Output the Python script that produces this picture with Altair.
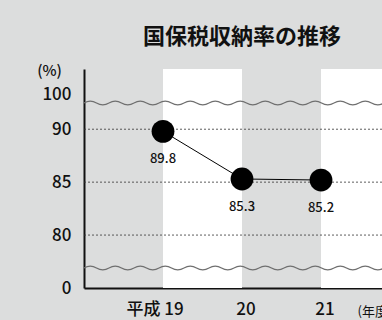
import altair as alt
import pandas as pd

# ---- data ----
years = [19, 20, 21]
year_labels = ["平成 19", "20", "21"]
rates = [89.8, 85.3, 85.2]
grid_values = [80, 85, 90]
stripe_starts = [19, 21]
stripe_ends = [20, 22]

FONT = "Noto Sans CJK JP"
BG = "#dcdddd"
PLOT_W, PLOT_H = 298, 219
X_DOMAIN = [18, 21.772]
Y_DOMAIN = [75, 95.69]
Y_LABEL_100 = 93.24  # break-axis position of the "100" label

df = pd.DataFrame({"year": years, "rate": rates, "ylab": year_labels})
grid_df = pd.DataFrame({"v": grid_values})
stripe_df = pd.DataFrame({"s": stripe_starts, "e": stripe_ends})

xscale = alt.Scale(domain=X_DOMAIN, nice=False, zero=False)
yscale = alt.Scale(domain=Y_DOMAIN, nice=False, zero=False)

# one period of the wavy break line as a custom symbol path
WAVE_PERIOD = 25  # px
half = WAVE_PERIOD / 2
amp = 3.6 / half
wave_path = f"M-1,0 q0.5,{-amp:.4f} 1,0 q0.5,{amp:.4f} 1,0"
n_waves = -(-PLOT_W // WAVE_PERIOD)
px_per_unit = PLOT_W / (X_DOMAIN[1] - X_DOMAIN[0])

x_axis = alt.Axis(
    values=years, labels=False,
    ticks=False, grid=False, domainColor="#111111", domainWidth=2,
    title="(年度)", titleFont=FONT, titleFontSize=13, titleFontWeight="normal",
    titleColor="#111111", titleAnchor="start", titleAlign="left", titleBaseline="middle",
    titleX=273, titleY=23,
)
y_axis = alt.Axis(
    values=[75, 80, 85, 90, Y_LABEL_100],
    labelExpr="datum.value < 76 ? '0' : (datum.value > 93 ? '100' : datum.label)",
    ticks=False, grid=False, domainColor="#111111", domainWidth=2,
    labelFont=FONT, labelFontSize=17, labelFontWeight=500, labelColor="#111111",
    labelPadding=13, labelFlush=False,
    title="(%)", titleFont=FONT, titleFontSize=15, titleFontWeight=500,
    titleColor="#111111", titleAngle=0, titleAlign="center", titleBaseline="middle",
    titleX=-35, titleY=1,
)

base = alt.Chart(df)

stripes = alt.Chart(stripe_df).mark_rect(color="white", clip=True).encode(
    x=alt.X("s:Q", scale=xscale, axis=x_axis),
    x2="e:Q",
    y=alt.value(0),
    y2=alt.value(PLOT_H),
)

grid = alt.Chart(grid_df).mark_rule(color="#333333", strokeDash=[2, 2], strokeWidth=0.8).encode(
    y=alt.Y("v:Q", scale=yscale, axis=y_axis),
    x=alt.value(0),
    x2=alt.value(PLOT_W),
)

def wave(ypix):
    return alt.Chart(alt.sequence(0, n_waves, as_="i")).transform_calculate(
        wx=f"{X_DOMAIN[0]} + (datum.i + 0.5) * {WAVE_PERIOD} / {px_per_unit}"
    ).mark_point(
        shape=wave_path, size=WAVE_PERIOD ** 2, filled=False,
        stroke="#6f6f6f", strokeWidth=1.3, opacity=1, clip=True,
    ).encode(x=alt.X("wx:Q", scale=xscale), y=alt.value(ypix))

wave_top = wave(34)
wave_bot = wave(199)

line = base.mark_line(color="black", strokeWidth=1).encode(
    x=alt.X("year:Q", scale=xscale),
    y=alt.Y("rate:Q", scale=yscale),
)
points = base.mark_circle(size=520, color="black", opacity=1).encode(
    x=alt.X("year:Q", scale=xscale),
    y=alt.Y("rate:Q", scale=yscale),
)
labels = base.mark_text(dy=28, font=FONT, fontSize=13, fontWeight=500, color="#111111").encode(
    x=alt.X("year:Q", scale=xscale),
    y=alt.Y("rate:Q", scale=yscale),
    text=alt.Text("rate:Q", format=".1f"),
)

# category tick labels (first one carries the era name and sits further left)
tick_style = dict(font=FONT, fontSize=17, fontWeight=500, color="#111111", baseline="middle")
xlab_first = base.transform_filter(alt.datum.year == years[0]).mark_text(dx=-8, **tick_style).encode(
    x=alt.X("year:Q", scale=xscale), y=alt.value(PLOT_H + 22), text="ylab:N"
)
xlab_rest = base.transform_filter(alt.datum.year != years[0]).mark_text(dx=4, **tick_style).encode(
    x=alt.X("year:Q", scale=xscale), y=alt.value(PLOT_H + 22), text="ylab:N"
)

chart = alt.layer(stripes, grid, wave_top, wave_bot, line, points, labels, xlab_first, xlab_rest).properties(
    width=PLOT_W,
    height=PLOT_H,
    background=BG,
    padding={"left": 84, "top": 69, "right": 0, "bottom": 32},
    autosize=alt.AutoSizeParams(type="none"),
    title=alt.Title(
        "国保税収納率の推移", font=FONT, fontSize=22, fontWeight="bold", color="#111111",
        anchor="middle", frame="group", dx=9, dy=3, offset=0, baseline="alphabetic",
    ),
).configure_view(stroke=None)

chart.save("out.html", embed_options={"renderer": "svg", "actions": False})
